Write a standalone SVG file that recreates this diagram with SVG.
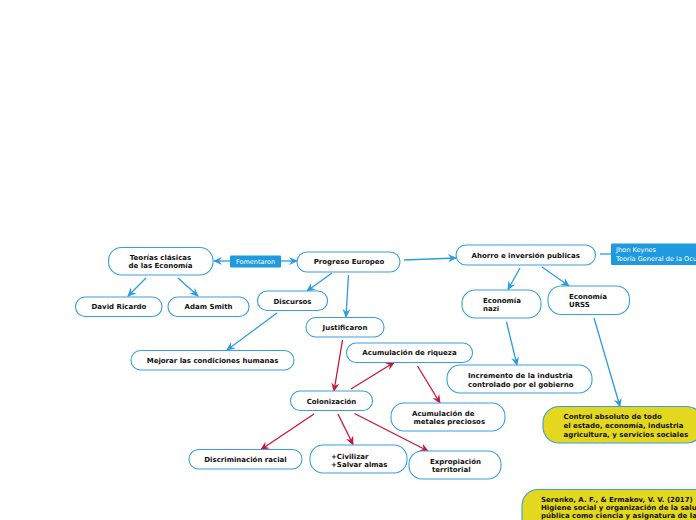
<svg xmlns="http://www.w3.org/2000/svg" width="696" height="520" viewBox="0 0 696 520">
<style>
.n{fill:#fff;stroke:#3a9fe0;stroke-width:1.1}
.y{fill:#e3d81e;stroke:#3a9fe0;stroke-width:1.1}
.lb{fill:#1f9ae0}
.t{font-family:"DejaVu Sans",Verdana,sans-serif;font-weight:bold;font-size:7px;fill:#111}
.c{text-anchor:middle}
.w{font-family:"DejaVu Sans",Verdana,sans-serif;font-size:6.6px;fill:#fff}
.b{fill:none;stroke:#2b9ce0;stroke-width:1.3}
.r{fill:none;stroke:#c8173a;stroke-width:1.3}
.b.a{marker-end:url(#ab)}
.r.a{marker-end:url(#ar)}
</style>
<defs>
<marker id="ab" markerWidth="10" markerHeight="10" refX="8" refY="5" orient="auto" markerUnits="userSpaceOnUse" viewBox="0 0 10 10"><path d="M0,1 L9,5 L0,9 L3,5 Z" fill="#2b9ce0"/></marker>
<marker id="ar" markerWidth="10" markerHeight="10" refX="8" refY="5" orient="auto" markerUnits="userSpaceOnUse" viewBox="0 0 10 10"><path d="M0,1 L9,5 L0,9 L3,5 Z" fill="#c8173a"/></marker>
</defs>
<rect width="696" height="520" fill="#fff"/>
<g id="connectors">
<path class="b a" d="M230,261 L214,261"/>
<path class="b a" d="M281,261 L297,261"/>
<path class="b a" d="M146,278 L128,296"/>
<path class="b a" d="M178,278 L198,296"/>
<path class="b a" d="M332,273 L307,291"/>
<path class="b a" d="M348.5,275 L346,317"/>
<path class="b a" d="M277,313 L227,350"/>
<path class="b a" d="M404,260 L456,258"/>
<path class="b" d="M600,254 L611,254"/>
<path class="b a" d="M520,268 L508,289.5"/>
<path class="b a" d="M542,267 L569,286"/>
<path class="b a" d="M506.5,322 L517,365"/>
<path class="b a" d="M594,318 L620,406.5"/>
<path class="r a" d="M342.5,340 L334,391"/>
<path class="r a" d="M351,389 L394,362.5"/>
<path class="r a" d="M417.5,366 L440,403"/>
<path class="r a" d="M314,414 L261,449.5"/>
<path class="r a" d="M338,414 L353,444.5"/>
<path class="r a" d="M354.5,413.5 L428,451"/>
</g>
<g id="fomentaron"><rect class="lb" x="230" y="255.5" width="51" height="12" rx="1"/><text class="w c" x="255.5" y="263.7" style="font-size:6.5px">Fomentaron</text></g>
<g id="teorias"><rect class="n" x="108.5" y="247.5" width="104.5" height="27.5" rx="13"/><text class="t c" x="160.5" y="259.5">Teorías clásicas</text><text class="t c" x="160.5" y="268">de las Economía</text></g>
<g id="progreso"><rect class="n" x="297" y="252" width="103" height="20" rx="10"/><text class="t c" x="349" y="264.3">Progreso Europeo</text></g>
<g id="david"><rect class="n" x="75.5" y="297" width="86.5" height="19.5" rx="9.5"/><text class="t c" x="119" y="309.3">David Ricardo</text></g>
<g id="adam"><rect class="n" x="168" y="297" width="81" height="19.5" rx="9.5"/><text class="t c" x="208.5" y="309.3">Adam Smith</text></g>
<g id="discursos"><rect class="n" x="257.5" y="291" width="70" height="19.5" rx="9.5"/><text class="t c" x="292.5" y="303.5">Discursos</text></g>
<g id="justificaron"><rect class="n" x="306" y="317.5" width="78" height="19.5" rx="9.5"/><text class="t c" x="345" y="330">Justificaron</text></g>
<g id="mejorar"><rect class="n" x="131" y="350.5" width="163" height="19.5" rx="9.5"/><text class="t c" x="212.5" y="363">Mejorar las condiciones humanas</text></g>
<g id="riqueza"><rect class="n" x="346.5" y="343" width="126" height="19.5" rx="9.5"/><text class="t c" x="409.5" y="355.4">Acumulación de riqueza</text></g>
<g id="colonizacion"><rect class="n" x="290.5" y="391" width="82" height="19.5" rx="9.5"/><text class="t c" x="331.5" y="403.6">Colonización</text></g>
<g id="metales"><rect class="n" x="391" y="403" width="114" height="28" rx="13"/><text class="t" x="412" y="416">Acumulación de</text><text class="t" x="413.5" y="424.3">metales preciosos</text></g>
<g id="discriminacion"><rect class="n" x="189" y="449.5" width="113" height="19.5" rx="9.5"/><text class="t c" x="245.5" y="462">Discriminación racial</text></g>
<g id="civilizar"><rect class="n" x="310" y="445" width="97" height="28" rx="13"/><text class="t" x="331" y="459">+Civilizar</text><text class="t" x="331" y="467.3">+Salvar almas</text></g>
<g id="expropiacion"><rect class="n" x="409" y="451" width="92" height="28" rx="13"/><text class="t" x="430" y="464">Expropiación</text><text class="t" x="432" y="472.3">territorial</text></g>
<g id="ahorro"><rect class="n" x="456" y="245" width="139.5" height="20" rx="10"/><text class="t c" x="525.7" y="257.6">Ahorro e inversión publicas</text></g>
<g id="keynes"><rect class="lb" x="611" y="243.5" width="95" height="21.5" rx="1"/><text class="w" x="616" y="251.8">Jhon Keynes</text><text class="w" x="616" y="260.6">Teoría General de la Ocu</text></g>
<g id="nazi"><rect class="n" x="462" y="290" width="79" height="28" rx="13"/><text class="t" x="483" y="302.5">Economía</text><text class="t" x="483" y="310.8">nazi</text></g>
<g id="urss"><rect class="n" x="548" y="286" width="81.5" height="28.5" rx="13"/><text class="t" x="569" y="298.5">Economía</text><text class="t" x="569" y="306.8">URSS</text></g>
<g id="incremento"><rect class="n" x="447" y="365" width="145" height="28" rx="13"/><text class="t" x="468" y="378">Incremento de la industria</text><text class="t" x="468" y="386.5">controlado por el gobierno</text></g>
<g id="control"><rect class="y" x="543" y="406.5" width="160" height="36.5" rx="16"/><text class="t" x="563.5" y="419">Control absoluto de todo</text><text class="t" x="563.5" y="428">el estado, economía, industria</text><text class="t" x="563.5" y="437">agricultura, y servicios sociales</text></g>
<g id="serenko"><rect class="y" x="522" y="489.5" width="190" height="45" rx="16"/><text class="t" x="541" y="501.5">Serenko, A. F., &amp; Ermakov, V. V. (2017)</text><text class="t" x="541" y="510">Higiene social y organización de la salu</text><text class="t" x="541" y="518.3">pública como ciencia y asignatura de la</text></g>
</svg>
